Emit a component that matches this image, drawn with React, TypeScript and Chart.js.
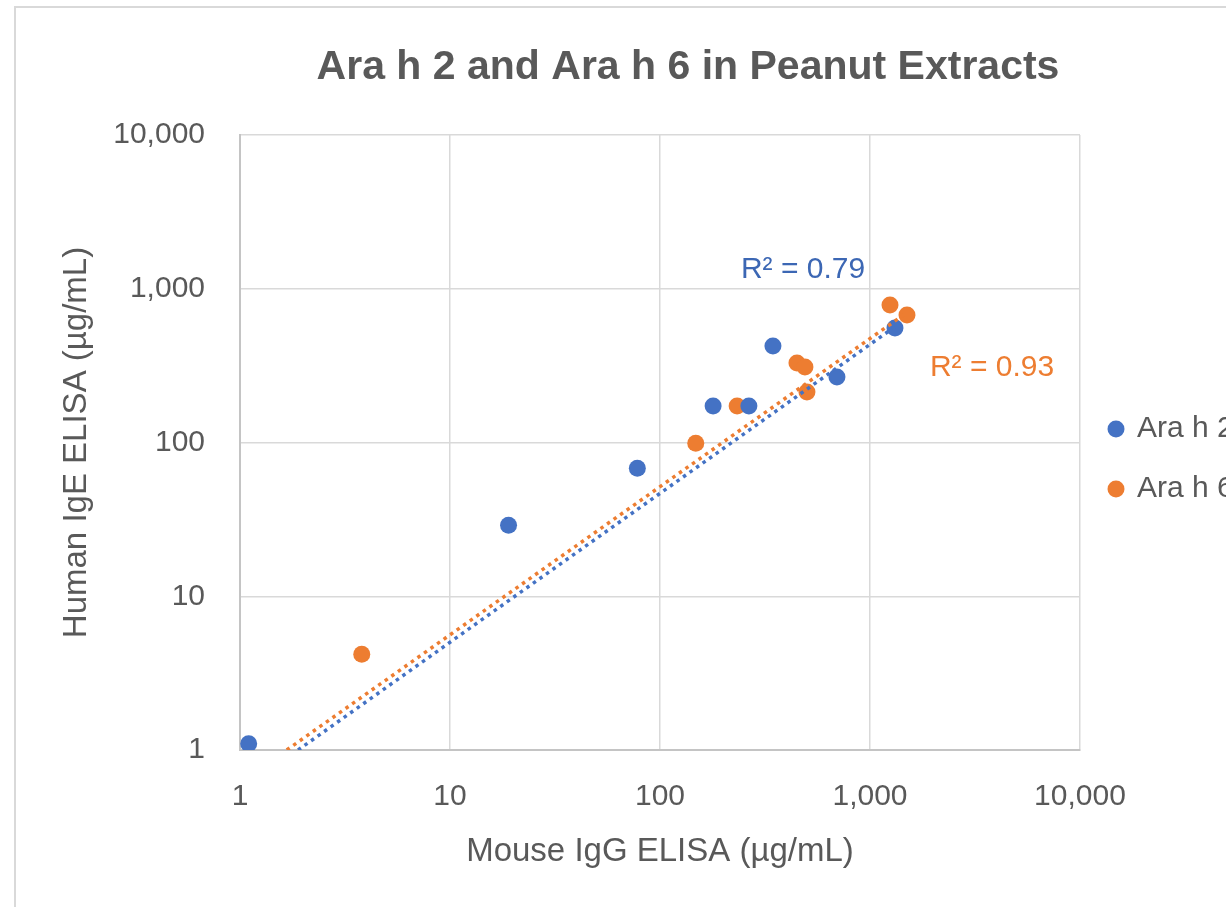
import React, { useEffect, useRef } from 'react';
import { Chart, registerables } from 'chart.js';

Chart.register(...registerables);

// ---- data ----
const SERIES_NAMES = ['Ara h 2', 'Ara h 6'];
const ARA_H2_X = [1.1, 19, 78, 179, 265, 345, 696, 1315];
const ARA_H2_Y = [1.1, 29, 68, 173, 173, 424, 267, 555];
const ARA_H6_X = [3.8, 148, 233, 449, 490, 501, 1245, 1500];
const ARA_H6_Y = [4.2, 99, 173, 329, 310, 213, 784, 675];
// power trendlines (straight on log-log), endpoints
const TREND_H2_X = [1.89, 1315];
const TREND_H2_Y = [1, 566];
const TREND_H6_X = [1.67, 1500];
const TREND_H6_Y = [1, 701];
const R2_LABELS = ['R² = 0.79', 'R² = 0.93'];
const AXIS_TICKS = [1, 10, 100, 1000, 10000];
const TITLE = 'Ara h 2 and Ara h 6 in Peanut Extracts';
const X_TITLE = 'Mouse IgG ELISA (µg/mL)';
const Y_TITLE = 'Human IgE ELISA (µg/mL)';

// ---- styling / placement ----
const BLUE = '#4472C4';
const ORANGE = '#ED7D31';
const TEXT = '#595959';
const FONT = '"Liberation Sans", Arial, sans-serif';
const R2_ANCHORS = [
  { x: 480, y: 1324, color: '#3C67B4' },
  { x: 3811, y: 305, color: ORANGE },
];

const zip = (xs: number[], ys: number[]) => xs.map((x, i) => ({ x, y: ys[i] }));

const r2Plugin = {
  id: 'r2Labels',
  afterDatasetsDraw(chart: any) {
    const { ctx, scales } = chart;
    ctx.save();
    ctx.font = `30px ${FONT}`;
    ctx.textAlign = 'center';
    ctx.textBaseline = 'middle';
    R2_LABELS.forEach((t, i) => {
      const a = R2_ANCHORS[i];
      ctx.fillStyle = a.color;
      ctx.fillText(t, scales.x.getPixelForValue(a.x), scales.y.getPixelForValue(a.y));
    });
    ctx.restore();
  },
};

const titleShift = {
  id: 'titleShift',
  afterLayout(chart: any) {
    const t = chart.titleBlock;
    if (t) {
      t.left += 28;
      t.right += 28;
    }
  },
};

export default function App() {
  const ref = useRef<HTMLCanvasElement | null>(null);

  useEffect(() => {
    if (!ref.current) return;
    Chart.defaults.font.family = FONT;
    const chart = new Chart(ref.current, {
      type: 'scatter',
      data: {
        datasets: [
          {
            label: SERIES_NAMES[0],
            data: zip(ARA_H2_X, ARA_H2_Y),
            backgroundColor: BLUE,
            borderColor: BLUE,
            pointRadius: 8.5,
            pointBorderWidth: 0,
            pointHoverRadius: 8.5,
            order: 2,
          },
          {
            label: SERIES_NAMES[1],
            data: zip(ARA_H6_X, ARA_H6_Y),
            backgroundColor: ORANGE,
            borderColor: ORANGE,
            pointRadius: 8.5,
            pointBorderWidth: 0,
            pointHoverRadius: 8.5,
            order: 3,
          },
          {
            label: 'trend-h2',
            data: zip(TREND_H2_X, TREND_H2_Y),
            showLine: true,
            borderColor: BLUE,
            backgroundColor: BLUE,
            borderWidth: 3.5,
            borderDash: [3.5, 4.5],
            pointRadius: 0,
            order: 0,
          },
          {
            label: 'trend-h6',
            data: zip(TREND_H6_X, TREND_H6_Y),
            showLine: true,
            borderColor: ORANGE,
            backgroundColor: ORANGE,
            borderWidth: 3.5,
            borderDash: [3.5, 4.5],
            pointRadius: 0,
            order: 1,
          },
        ],
      },
      options: {
        animation: false,
        responsive: false,
        devicePixelRatio: 1,
        layout: { padding: { left: 0, right: 10, top: 0, bottom: 0 } },
        plugins: {
          tooltip: { enabled: false },
          title: {
            display: true,
            text: TITLE,
            fullSize: false,
            color: TEXT,
            font: { size: 41, weight: 'bold', family: FONT },
            padding: { top: 43, bottom: 42.8 },
          },
          legend: {
            position: 'right',
            maxWidth: 150,
            labels: {
              usePointStyle: true,
              pointStyle: 'circle',
              boxWidth: 12,
              boxHeight: 12,
              padding: 30,
              color: TEXT,
              font: { size: 30, family: FONT },
              filter: (item: any) => item.datasetIndex < 2,
            },
          },
        },
        scales: {
          x: {
            type: 'logarithmic',
            min: 1,
            max: 10000,
            afterBuildTicks: (s: any) => {
              s.ticks = AXIS_TICKS.map((v) => ({ value: v }));
            },
            afterFit: (s: any) => {
              s.height = 168;
            },
            ticks: {
              padding: 29,
              color: TEXT,
              font: { size: 30 },
              maxRotation: 0,
              callback: (v: any) => Number(v).toLocaleString('en-US'),
            },
            grid: { color: '#d9d9d9', lineWidth: 1.5, drawTicks: false },
            border: { color: '#c4c4c4', width: 2 },
            title: {
              display: true,
              text: X_TITLE,
              color: TEXT,
              font: { size: 33 },
              padding: { top: 0, bottom: 46 },
            },
          },
          y: {
            type: 'logarithmic',
            min: 1,
            max: 10000,
            afterBuildTicks: (s: any) => {
              s.ticks = AXIS_TICKS.map((v) => ({ value: v }));
            },
            afterFit: (s: any) => {
              s.width = 240;
            },
            ticks: {
              padding: 35,
              color: TEXT,
              font: { size: 30 },
              callback: (v: any) => Number(v).toLocaleString('en-US'),
            },
            grid: { color: '#d9d9d9', lineWidth: 1.5, drawTicks: false },
            border: { color: '#c4c4c4', width: 2 },
            title: {
              display: true,
              text: Y_TITLE,
              color: TEXT,
              font: { size: 33 },
              padding: { top: 57, bottom: 0 },
            },
          },
        },
      } as any,
      plugins: [r2Plugin, titleShift],
    });
    return () => chart.destroy();
  }, []);

  return (
    <div
      style={{
        position: 'fixed',
        left: 0,
        top: 0,
        width: 1226,
        height: 907,
        overflow: 'hidden',
        background: '#ffffff',
      }}
    >
      <canvas
        ref={ref}
        width={1240}
        height={918}
        style={{ position: 'absolute', left: 0, top: 0, width: 1240, height: 918 }}
      />
      <div
        style={{
          position: 'absolute',
          left: 14,
          top: 6,
          width: 1400,
          height: 1000,
          border: '2px solid #d9d9d9',
          pointerEvents: 'none',
        }}
      />
    </div>
  );
}
